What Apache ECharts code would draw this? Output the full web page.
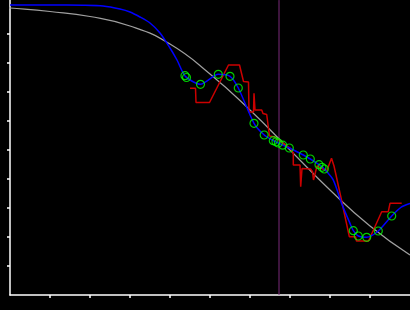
<!DOCTYPE html>
<html>
<head>
<meta charset="utf-8">
<script src="https://cdn.jsdelivr.net/npm/echarts@6/dist/echarts.min.js"></script>
<style>html,body{margin:0;padding:0;background:#000;}#c{width:410px;height:310px;}</style>
</head>
<body>
<div id="c"></div>
<script>
// Tick positions (no labels shown in the reference)
const xTicks = [1, 2, 3, 4, 5, 6, 7, 8, 9];
const yTicks = [1, 2, 3, 4, 5, 6, 7, 8, 9];

// Gray reference sigmoid
const grayCurve = [[-0.25, 9.92], [0, 9.897], [1, 9.776], [2, 9.603], [3, 9.276], [4, 8.655], [5, 7.621],
  [6, 6.379], [7, 5.0], [8, 3.621], [9, 2.379], [10, 1.379]];

// Red measured line
const redLine = [[4.5, 7.128], [4.6375, 7.128], [4.65, 6.638], [4.9875, 6.638], [5.4625, 7.931], [5.7375, 7.931],
  [5.8375, 7.362], [5.9625, 7.345], [5.975, 6.31], [6.0875, 6.31], [6.1, 6.955], [6.125, 6.379], [6.2925, 6.379],
  [6.325, 6.259], [6.4175, 6.224], [6.4875, 5.483], [6.625, 5.448], [6.825, 5.241], [7.0, 5.069], [7.0825, 4.897],
  [7.0825, 4.483], [7.25, 4.483], [7.2675, 3.734], [7.3, 4.362], [7.5125, 4.345], [7.5625, 4.252], [7.5875, 3.966],
  [7.675, 4.448], [7.9175, 4.276], [8.0375, 4.714], [8.1, 4.448], [8.15, 4.138], [8.2875, 3.276], [8.4825, 2.01],
  [8.6375, 2.01], [8.6625, 1.862], [8.9625, 1.862], [9.2925, 2.872], [9.4575, 2.872], [9.5, 3.162], [9.7925, 3.162]];

// Blue fitted line
const blueLine = [[0, 10.0], [1, 10.0], [1.825, 9.99], [2.325, 9.966], [2.75, 9.862], [3.0, 9.759], [3.25, 9.586],
  [3.5, 9.379], [3.75, 9.034], [4.0, 8.517], [4.175, 8.103], [4.39, 7.53], [4.7625, 7.266], [5.2075, 7.61],
  [5.5, 7.541], [5.7075, 7.138], [6.1, 5.921], [6.355, 5.517], [6.5825, 5.321], [6.7075, 5.241], [6.8175, 5.166],
  [6.9825, 5.069], [7.3325, 4.828], [7.5075, 4.69], [7.725, 4.493], [7.8575, 4.345], [8.08, 3.97], [8.29, 3.16],
  [8.5, 2.47], [8.5825, 2.217], [8.7075, 2.034], [8.9175, 1.99], [9.2075, 2.207], [9.5425, 2.724], [9.79, 3.04], [10, 3.16]];

// Green sample points
const greenPoints = [[4.375, 7.562], [4.4125, 7.5], [4.7625, 7.266], [5.2075, 7.61], [5.5, 7.541], [5.7075, 7.138],
  [6.1, 5.921], [6.355, 5.517], [6.5825, 5.321], [6.65, 5.283], [6.7075, 5.241], [6.8175, 5.166], [6.9825, 5.069],
  [7.3325, 4.828], [7.5075, 4.69], [7.725, 4.493], [7.8, 4.403], [7.8575, 4.345], [8.5825, 2.217], [8.7075, 2.034],
  [8.9175, 1.99], [9.2075, 2.207], [9.5425, 2.724]];

// Vertical marker
const markerX = 6.725;
const markerLine = [[markerX, 0], [markerX, 10.17]];

const chart = echarts.init(document.getElementById('c'), null, {renderer: 'canvas'});
chart.setOption({
  backgroundColor: '#000',
  animation: false,
  grid: {left: 10, right: 0, top: 0, bottom: 15, containLabel: false},
  xAxis: {
    type: 'value', min: 0, max: 10, interval: 1,
    axisLine: {show: true, onZero: false, lineStyle: {color: '#fff', width: 1.5}},
    axisTick: {show: true, length: 3, customValues: xTicks, lineStyle: {color: '#fff', width: 1.5}},
    axisLabel: {show: false},
    splitLine: {show: false}
  },
  yAxis: {
    type: 'value', min: 0, max: 295 / 29, interval: 1,
    axisLine: {show: true, onZero: false, lineStyle: {color: '#fff', width: 1.5}},
    axisTick: {show: true, length: 3, customValues: yTicks, lineStyle: {color: '#fff', width: 1.5}},
    axisLabel: {show: false},
    splitLine: {show: false}
  },
  series: [
    {type: 'line', data: markerLine, symbol: 'none', clip: false, lineStyle: {color: '#7a2a7a', width: 1}, z: 1},
    {type: 'line', data: grayCurve, symbol: 'none', smooth: 0.5, clip: false,
      lineStyle: {color: '#a0a0a0', width: 1.2}, z: 2},
    {type: 'line', data: redLine, symbol: 'none', lineStyle: {color: '#cc0000', width: 1.5}, z: 3},
    {type: 'line', data: blueLine, symbol: 'none', smooth: 0.25,
      lineStyle: {color: '#0000ff', width: 1.5}, z: 4},
    {type: 'scatter', data: greenPoints, symbol: 'circle', symbolSize: 8,
      itemStyle: {color: 'rgba(0,0,0,0)', borderColor: '#00ff00', borderWidth: 1.2}, z: 5}
  ]
});
</script>
</body>
</html>
